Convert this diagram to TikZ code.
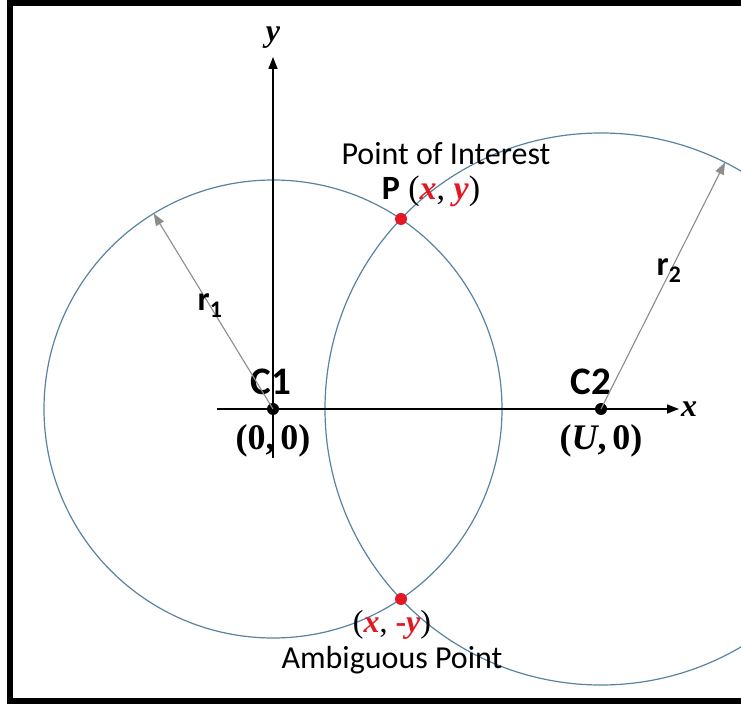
\documentclass[tikz,border=0pt]{standalone}
\usepackage{fontspec}
\setmainfont{Liberation Serif}
\setsansfont{Carlito}
\usetikzlibrary{positioning,arrows.meta}
\definecolor{ringblue}{RGB}{88,130,162}
\definecolor{ptred}{RGB}{226,24,36}
\definecolor{radgray}{RGB}{140,140,140}

\begin{document}
\begin{tikzpicture}[
    x=1pt, y=1pt,
    ring/.style={draw=ringblue, line width=1.2pt},
    axis/.style={line width=1.4pt, -{Triangle[length=12pt,width=9pt]}},
    radarrow/.style={draw=radgray, line width=1.1pt, -{Triangle[length=12pt,width=9pt]}},
    centre/.style={circle, fill=black, inner sep=0pt, minimum size=12pt},
    hit/.style={circle, fill=ptred, inner sep=0pt, minimum size=12pt},
    lbl/.style={font=\sffamily\bfseries\fontsize{39}{42}\selectfont, inner sep=0pt},
    coord/.style={font=\bfseries\fontsize{36}{40}\selectfont, inner sep=0pt},
    note/.style={font=\sffamily\fontsize{32}{36}\selectfont, inner sep=0pt}
]
  \clip (0,0) rectangle (741,704);
  % frame
  \draw[line width=6pt] (9.5,3) rectangle (790,701);

  % circles
  \draw[ring] (273,295) circle[radius=229];
  \draw[ring] (601,295) circle[radius=276];

  % axes
  \coordinate (xstart) at (217,295);
  \coordinate (xend) at (679,295);
  \coordinate (ystart) at (273,246);
  \coordinate (yend) at (273,647);
  \draw[axis] (xstart) -- (xend);
  \draw[axis] (ystart) -- (yend);
  \node[coord, font=\bfseries\itshape\fontsize{32}{34}\selectfont, right=2pt of xend] (xlab) {x};
  \node[coord, font=\bfseries\itshape\fontsize{32}{34}\selectfont, above=8pt of yend] (ylab) {y};

  % centres
  \node[centre] (c1) at (273,295) {};
  \node[centre] (c2) at (601,295) {};
  \node[lbl, above=8pt of c1, xshift=-2pt] (c1lab) {C1};
  \node[lbl, above=8pt of c2, xshift=-10pt] (c2lab) {C2};
  \node[coord, below=9pt of c1] (c1xy) {(0,\,0)};
  \node[coord, below=9pt of c2] (c2xy) {(\textit{U},\,0)};

  % radii
  \coordinate (r1end) at ([shift={(121.4:229)}]c1.center);
  \coordinate (r2end) at ([shift={(63.3:276)}]c2.center);
  \draw[radarrow] (c1.center) -- (r1end);
  \draw[radarrow] (c2.center) -- (r2end);
  \node[lbl, font=\sffamily\bfseries\fontsize{34}{36}\selectfont] (r1lab) at (210,398) {r\textsubscript{1}};
  \node[lbl, font=\sffamily\bfseries\fontsize{34}{36}\selectfont] (r2lab) at (669,433) {r\textsubscript{2}};

  % intersections
  \node[hit] (p) at (401,485) {};
  \node[hit] (q) at (401,105) {};
  \node[inner sep=0pt, font=\fontsize{34}{38}\selectfont, above=6pt of p, xshift=30pt] (plab)
    {{\sffamily\bfseries P} (\textcolor{ptred}{\textbf{\textit{x}}}, \textcolor{ptred}{\textbf{\textit{y}}})};
  \node[note, above=11pt of plab, xshift=15pt] (poi) {Point of Interest};
  \node[inner sep=0pt, font=\fontsize{32}{36}\selectfont, below=5pt of q, xshift=-9pt] (qlab)
    {(\textcolor{ptred}{\textbf{\textit{x}}}, \textcolor{ptred}{\textbf{-\textit{y}}})};
  \node[note, below=6pt of qlab] (amb) {Ambiguous Point};
\end{tikzpicture}
\end{document}
